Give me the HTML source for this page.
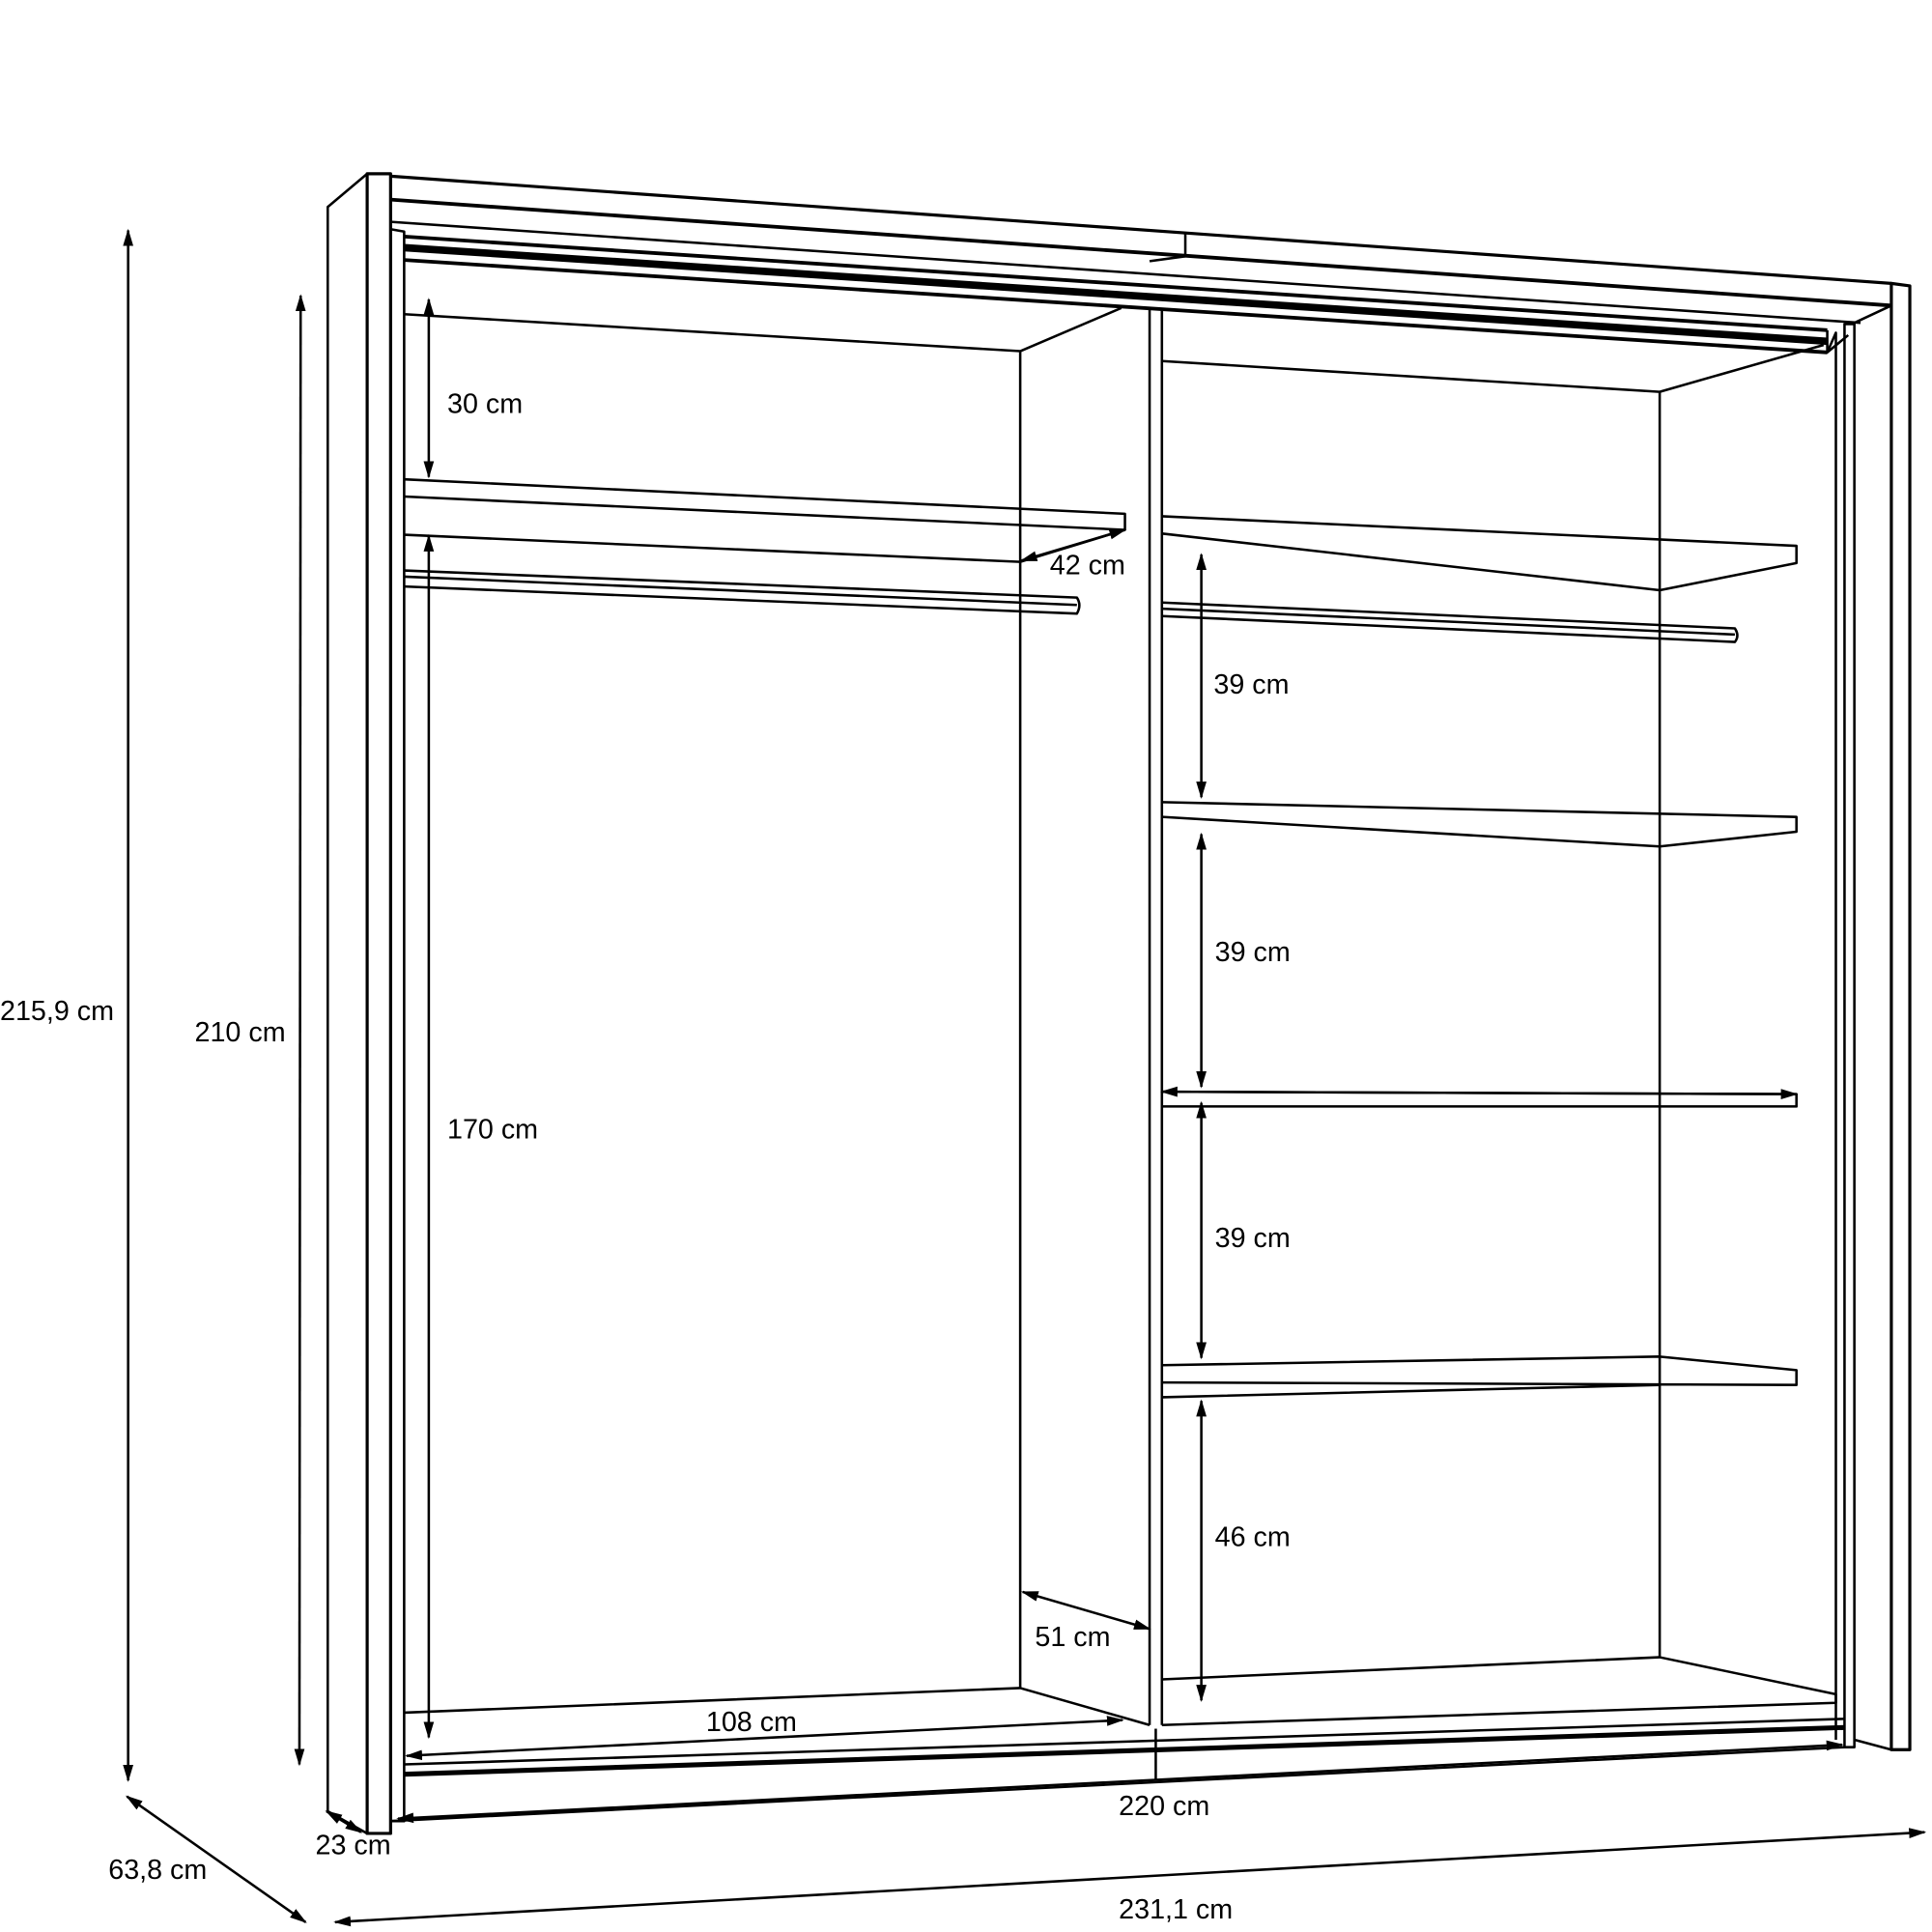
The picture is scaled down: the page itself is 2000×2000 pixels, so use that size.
<!DOCTYPE html>
<html><head><meta charset="utf-8"><style>html,body{margin:0;padding:0;background:#fff}svg{display:block}text{font-family:"Liberation Sans",sans-serif;font-size:22.5px;fill:#000}</style></head><body>
<svg width="2000" height="2000" viewBox="0 0 1568 1568" xmlns="http://www.w3.org/2000/svg">
<defs><marker id="a" viewBox="0 0 10 10" refX="9" refY="5" markerWidth="7" markerHeight="7" orient="auto-start-reverse"><path d="M0,2 L10,5 L0,8z" fill="#000"/></marker></defs>
<g fill="none" stroke="#000" stroke-width="2" stroke-linejoin="round">
<path d="M298,141 L266,168 L266,1470 L298,1488"/>
<rect x="298" y="141" width="19" height="1347" stroke-width="2.5"/>
<path d="M317,186 L328,188 L328,1478 L317,1478"/>
<path d="M317,143 L1535,230" stroke-width="2.5"/>
<path d="M317,162 L1535,248" stroke-width="3"/>
<path d="M317,180 L1510,262"/>
<path d="M962,190 L962,208 M933,212 L962,208"/>
<path d="M328,192 L1483,268" stroke-width="3"/>
<path d="M328,201 L1483,277" stroke-width="6"/>
<path d="M328,211 L1483,286" stroke-width="3"/>
<path d="M1483,268 L1483,286 L1500,272"/>
<path d="M1535,230 L1550,232 L1550,1420 L1535,1420 Z" stroke-width="2.5"/>
<path d="M1535,248 L1505,262 M1505,1412 L1535,1420"/>
<path d="M1497,263 L1505,263 L1505,1418 L1497,1418 Z"/>
<path d="M1483,286 L1490,270 L1490,1412"/>
<path d="M328,255 L828,285 L910,250 M828,285 L828,1370"/>
<path d="M328,389 L913,417 L913,430 L828,456 L328,434 M328,403 L913,430"/>
<path d="M328,463 L874,485 Q878,491 874,498 L328,476 M328,468 L874,491"/>
<path d="M328,1390 L828,1370 L933,1400"/>
<path d="M933,250 L933,1400 M943,250 L943,1400"/>
<path d="M943,293 L1347,318 L1480,280 M1347,318 L1347,1345"/>
<path d="M943,419 L1458,443 L1458,457 L1347,479 L943,433"/>
<path d="M943,489 L1408,510 Q1412,516 1408,521 L943,500 M943,494 L1408,515"/>
<path d="M943,651 L1458,663 L1458,675 L1347,687 L943,663"/>
<path d="M943,886 L1458,888 L1458,898 L943,898"/>
<path d="M943,1108 L1347,1101 L1458,1112 L1458,1124 L943,1122 M943,1134 L1347,1124"/>
<path d="M943,1363 L1347,1345 L1490,1375 L1490,1382 L943,1400"/>
<path d="M328,1432 L1497,1395"/>
<path d="M328,1440 L1497,1402" stroke-width="4"/>
<path d="M317,1478 L1497,1418"/>
<path d="M938,1403 L938,1445"/>
</g>
<g stroke="#000" stroke-width="2" fill="none" marker-start="url(#a)" marker-end="url(#a)">
<line x1="104" y1="187" x2="104" y2="1445"/>
<line x1="244" y1="240" x2="243" y2="1432"/>
<line x1="103" y1="1458" x2="248" y2="1560"/>
<line x1="272" y1="1560" x2="1562" y2="1487"/>
<line x1="323" y1="1476" x2="1495" y2="1416"/>
<line x1="265" y1="1470" x2="293" y2="1487"/>
<line x1="348" y1="243" x2="348" y2="387"/>
<line x1="348" y1="435" x2="348" y2="1410"/>
<line x1="829" y1="455" x2="913" y2="430"/>
<line x1="330" y1="1425" x2="911" y2="1396"/>
<line x1="830" y1="1292" x2="933" y2="1322"/>
<line x1="975" y1="450" x2="975" y2="647"/>
<line x1="975" y1="677" x2="975" y2="882"/>
<line x1="975" y1="895" x2="975" y2="1102"/>
<line x1="975" y1="1137" x2="975" y2="1380"/>
<line x1="943" y1="886" x2="1458" y2="888"/>
</g>
<text x="0" y="828">215,9 cm</text>
<text x="158" y="845">210 cm</text>
<text x="88" y="1525">63,8 cm</text>
<text x="908" y="1557">231,1 cm</text>
<text x="908" y="1473">220 cm</text>
<text x="256" y="1505">23 cm</text>
<text x="363" y="335">30 cm</text>
<text x="363" y="924">170 cm</text>
<text x="852" y="466">42 cm</text>
<text x="573" y="1405">108 cm</text>
<text x="840" y="1336">51 cm</text>
<text x="985" y="563">39 cm</text>
<text x="986" y="780">39 cm</text>
<text x="986" y="1012">39 cm</text>
<text x="986" y="1255">46 cm</text>
</svg>
</body></html>
